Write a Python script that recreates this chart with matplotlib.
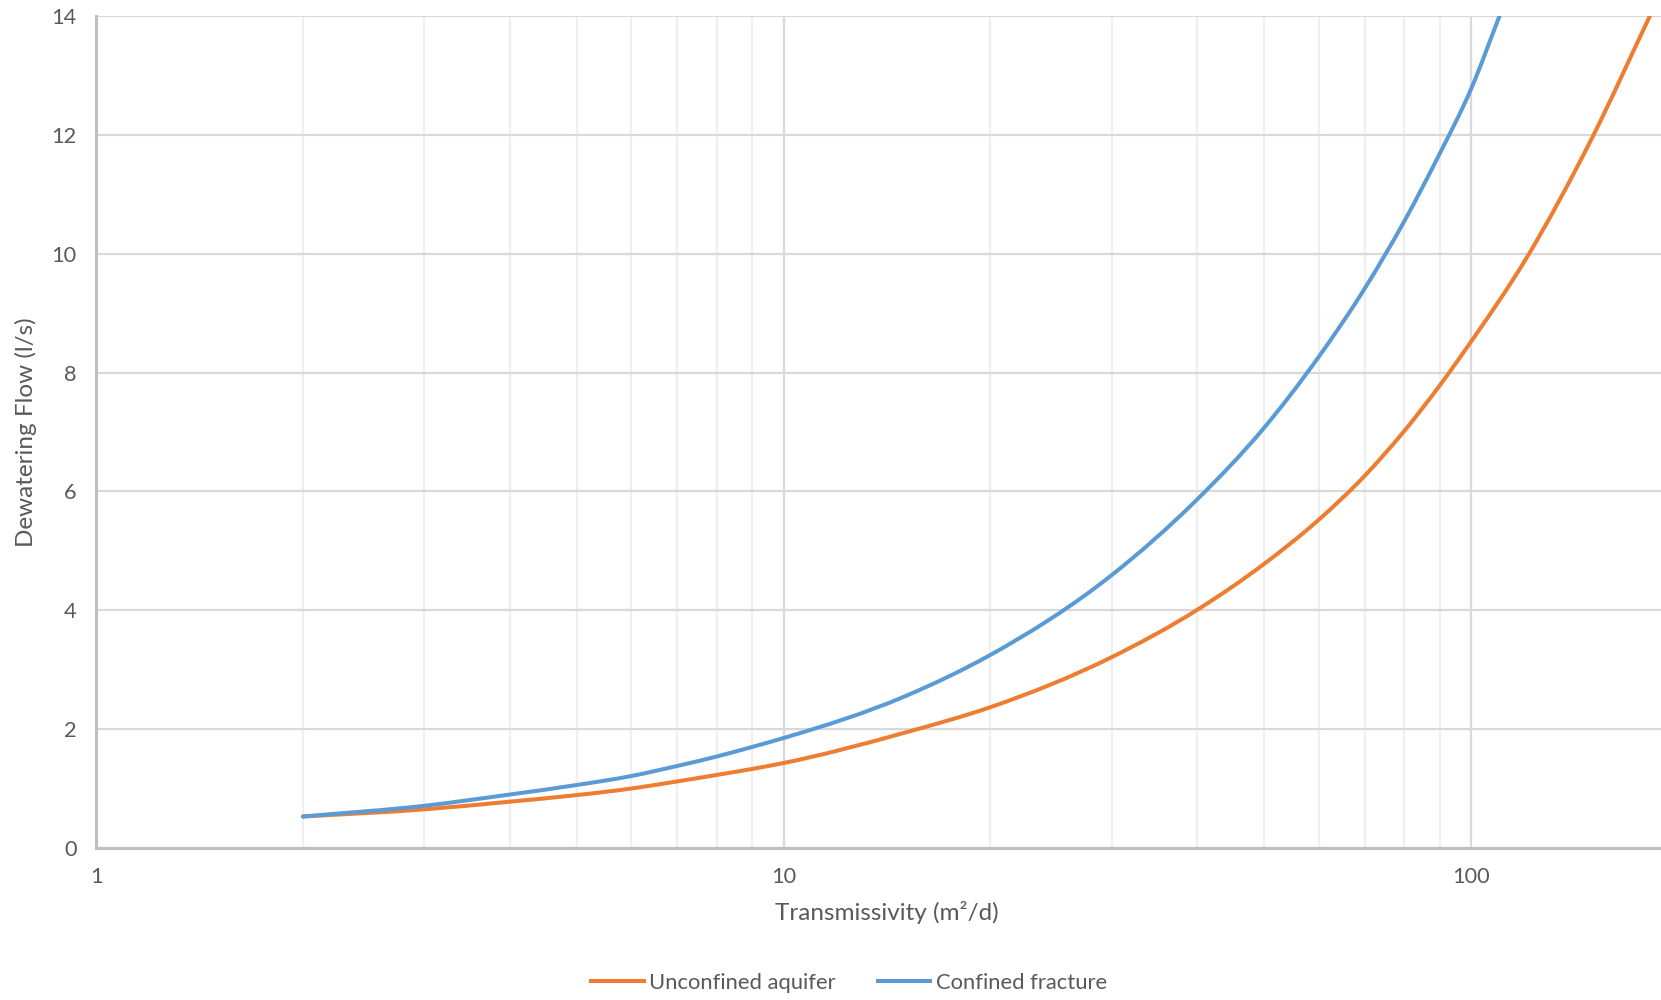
import matplotlib
matplotlib.use("Agg")
import numpy as np
import matplotlib.pyplot as plt
from matplotlib.path import Path
from matplotlib.patches import PathPatch
from matplotlib.lines import Line2D
from matplotlib.ticker import FixedLocator, NullFormatter, FixedFormatter

plt.rcParams['font.family'] = ['Lato', 'DejaVu Sans']

# Transmissivity (m2/d) and dewatering flow (l/s)
t_unconfined = [2, 3, 4, 5, 6, 7, 8, 9, 10, 15, 20, 30, 40, 50, 60, 70, 80, 90, 100, 120, 150, 182]
q_unconfined = [0.53, 0.65, 0.78, 0.89, 1.00, 1.12, 1.23, 1.33, 1.43, 1.94, 2.37, 3.21, 4.01,
                4.78, 5.52, 6.26, 7.02, 7.78, 8.52, 9.90, 11.95, 14.0]

t_confined = [2, 3, 4, 5, 6, 7, 8, 9, 10, 15, 20, 30, 40, 50, 60, 70, 80, 90, 100, 110]
q_confined = [0.53, 0.71, 0.90, 1.06, 1.21, 1.38, 1.54, 1.70, 1.85, 2.55, 3.25, 4.59, 5.87,
              7.07, 8.26, 9.41, 10.55, 11.68, 12.77, 14.0]

series_labels = ["Unconfined aquifer", "Confined fracture"]
x_tick_values = [1, 10, 100]
x_tick_labels = ["1", "10", "100"]
y_ticks = [0, 2, 4, 6, 8, 10, 12, 14]

ORANGE = "#ED7D31"
BLUE = "#5B9BD5"
TEXT = "#595959"
GRID = "#D9D9D9"
MINOR = "#EFEFEF"
AXIS = "#BFBFBF"
LW = 2.9


def smooth_path(t, q):
    """Smoothed line through the points (cubic Hermite in log-x space)."""
    X = np.log10(np.asarray(t, float))
    Y = np.asarray(q, float)
    h = np.diff(X)
    d = np.diff(Y) / h
    m = np.empty_like(Y)
    m[0], m[-1] = d[0], d[-1]
    m[1:-1] = (h[:-1] * d[1:] + h[1:] * d[:-1]) / (h[:-1] + h[1:])
    verts = [(10 ** X[0], Y[0])]
    codes = [Path.MOVETO]
    for i in range(len(X) - 1):
        dx = h[i] / 3
        c1 = (10 ** (X[i] + dx), Y[i] + m[i] * dx)
        c2 = (10 ** (X[i + 1] - dx), Y[i + 1] - m[i + 1] * dx)
        verts += [c1, c2, (10 ** X[i + 1], Y[i + 1])]
        codes += [Path.CURVE4] * 3
    return Path(verts, codes)


W, H = 1661, 1000
fig = plt.figure(figsize=(W / 100, H / 100), dpi=100)
left, bottom, top = 96, 848, 16
right = 1678  # the x axis runs on to 200, just past the right edge
ax = fig.add_axes([left / W, 1 - bottom / H, (right - left) / W, (bottom - top) / H])

for t, q, c in ((t_unconfined, q_unconfined, ORANGE), (t_confined, q_confined, BLUE)):
    ax.add_patch(PathPatch(smooth_path(t, q), facecolor='none', edgecolor=c, lw=LW,
                           capstyle='round', joinstyle='round', zorder=3))

ax.set_xscale('log')
ax.set_xlim(1, 200)
ax.set_ylim(0, 14)

ax.xaxis.set_major_locator(FixedLocator(x_tick_values))
ax.xaxis.set_major_formatter(FixedFormatter(x_tick_labels))
minor = [m * d for d in (1, 10, 100) for m in range(2, 10) if m * d < 200]
ax.xaxis.set_minor_locator(FixedLocator(minor))
ax.xaxis.set_minor_formatter(NullFormatter())
ax.set_yticks(y_ticks)

ax.grid(which='major', axis='both', color=GRID, lw=1.6, zorder=0)
ax.grid(which='minor', axis='x', color=MINOR, lw=1.6, zorder=0)
ax.set_axisbelow(True)

for s in ('top', 'right'):
    ax.spines[s].set_visible(False)
for s in ('left', 'bottom'):
    ax.spines[s].set_color(AXIS)
    ax.spines[s].set_linewidth(2.2)

ax.tick_params(which='both', length=0, colors=TEXT, labelsize=15.7, pad=14)

ax.set_xlabel("Transmissivity (m²/d)", fontsize=17.5, color=TEXT, labelpad=10)
ax.set_ylabel("Dewatering Flow (l/s)", fontsize=17.5, color=TEXT, labelpad=10)

handles = [Line2D([], [], color=ORANGE, lw=LW), Line2D([], [], color=BLUE, lw=LW)]
fig.legend(handles, series_labels, loc='center', bbox_to_anchor=(849 / W, 1 - 983 / H),
           ncol=2, frameon=False, fontsize=15.8, handlelength=2.4, handletextpad=0.25,
           columnspacing=1.9, labelcolor=TEXT)

fig.savefig("out.png", dpi=100, facecolor='white')
